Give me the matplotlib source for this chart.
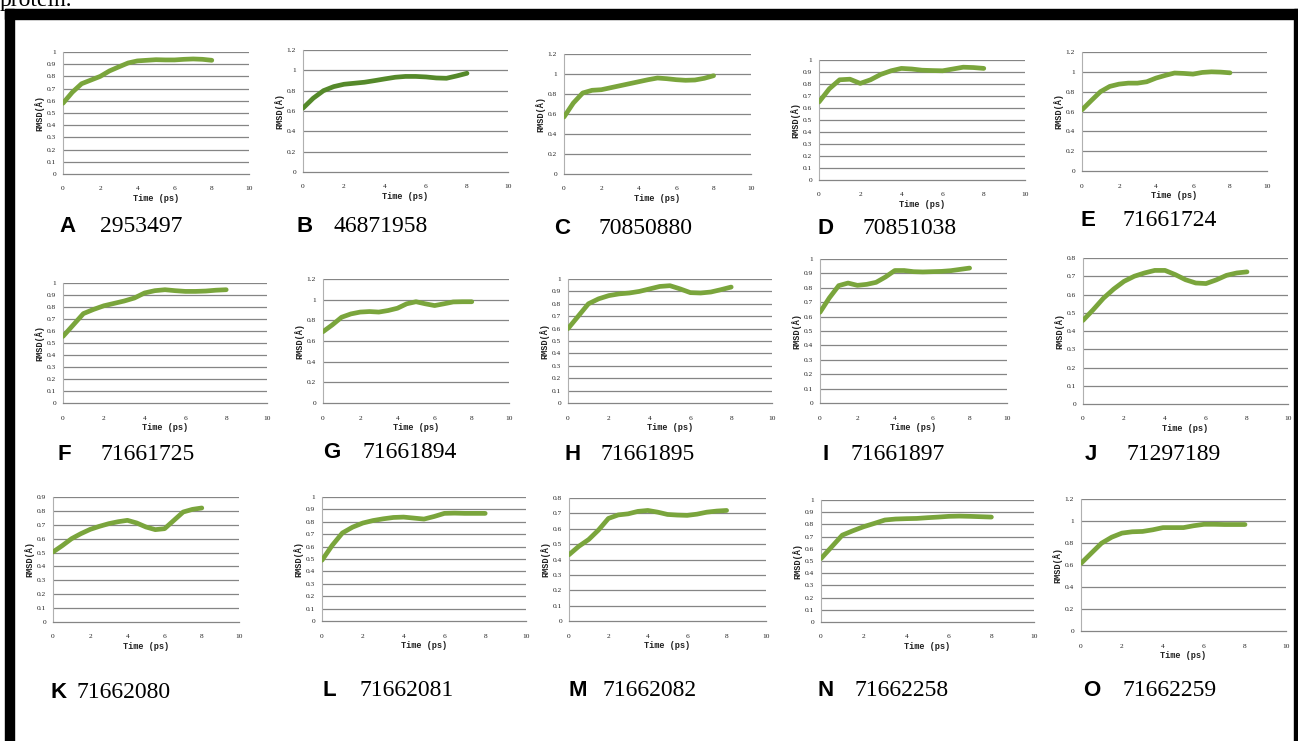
import matplotlib
matplotlib.use("Agg")
import matplotlib.pyplot as plt
from matplotlib.patches import Rectangle

# data (time in ps, RMSD in Angstrom)
time_ps = [0, 0.5, 1, 1.5, 2, 2.5, 3, 3.5, 4, 4.5, 5, 5.5, 6, 6.5, 7, 7.5, 8]

rmsd_A = [0.58, 0.67, 0.74, 0.77, 0.80, 0.845, 0.878, 0.91, 0.927, 0.932, 0.937, 0.935, 0.935, 0.94, 0.943, 0.94, 0.932]
rmsd_B = [0.628, 0.726, 0.80, 0.84, 0.863, 0.873, 0.883, 0.899, 0.916, 0.932, 0.94, 0.94, 0.935, 0.925, 0.922, 0.945, 0.971]
rmsd_C = [0.57, 0.71, 0.81, 0.837, 0.843, 0.863, 0.883, 0.903, 0.923, 0.943, 0.96, 0.953, 0.943, 0.937, 0.94, 0.957, 0.983]
rmsd_D = [0.65, 0.76, 0.835, 0.84, 0.805, 0.835, 0.88, 0.91, 0.93, 0.925, 0.915, 0.912, 0.91, 0.925, 0.94, 0.937, 0.93]
rmsd_E = [0.617, 0.71, 0.80, 0.853, 0.876, 0.886, 0.886, 0.90, 0.937, 0.964, 0.988, 0.984, 0.977, 0.994, 1.0, 0.997, 0.99]
rmsd_F = [0.555, 0.65, 0.745, 0.78, 0.81, 0.83, 0.85, 0.875, 0.917, 0.936, 0.944, 0.936, 0.93, 0.93, 0.933, 0.94, 0.944]
rmsd_G = [0.69, 0.756, 0.83, 0.862, 0.88, 0.885, 0.88, 0.895, 0.917, 0.96, 0.98, 0.96, 0.943, 0.96, 0.978, 0.98, 0.98]
rmsd_H = [0.60, 0.70, 0.80, 0.84, 0.866, 0.88, 0.887, 0.90, 0.92, 0.94, 0.946, 0.92, 0.89, 0.887, 0.895, 0.914, 0.935]
rmsd_I = [0.63, 0.73, 0.815, 0.833, 0.817, 0.824, 0.838, 0.875, 0.92, 0.92, 0.912, 0.91, 0.912, 0.914, 0.919, 0.928, 0.937]
rmsd_J = [0.458, 0.517, 0.58, 0.63, 0.672, 0.70, 0.718, 0.732, 0.732, 0.709, 0.681, 0.663, 0.66, 0.68, 0.705, 0.718, 0.724]
rmsd_K = [0.504, 0.55, 0.60, 0.636, 0.667, 0.689, 0.708, 0.722, 0.732, 0.713, 0.684, 0.665, 0.672, 0.732, 0.792, 0.811, 0.821]
rmsd_L = [0.49, 0.61, 0.71, 0.757, 0.79, 0.81, 0.824, 0.835, 0.838, 0.83, 0.822, 0.843, 0.868, 0.87, 0.868, 0.868, 0.868]
rmsd_M = [0.431, 0.486, 0.53, 0.592, 0.667, 0.69, 0.697, 0.713, 0.719, 0.708, 0.693, 0.689, 0.687, 0.695, 0.708, 0.715, 0.719]
rmsd_N = [0.52, 0.616, 0.712, 0.748, 0.781, 0.808, 0.836, 0.844, 0.847, 0.849, 0.855, 0.86, 0.866, 0.868, 0.866, 0.863, 0.86]
rmsd_O = [0.615, 0.707, 0.798, 0.853, 0.89, 0.902, 0.905, 0.92, 0.94, 0.94, 0.94, 0.957, 0.97, 0.97, 0.968, 0.968, 0.968]

letters = list("ABCDEFGHIJKLMNO")
compound_ids = ["2953497", "46871958", "70850880", "70851038", "71661724",
                "71661725", "71661894", "71661895", "71661897", "71297189",
                "71662080", "71662081", "71662082", "71662258", "71662259"]
y_max = [1, 1.2, 1.2, 1, 1.2, 1, 1.2, 1, 1, 0.8, 0.9, 1, 0.8, 1, 1.2]
y_step = [0.1, 0.2, 0.2, 0.1, 0.2, 0.1, 0.2, 0.1, 0.1, 0.1, 0.1, 0.1, 0.1, 0.1, 0.2]
x_ticks = [0, 2, 4, 6, 8, 10]

series = [rmsd_A, rmsd_B, rmsd_C, rmsd_D, rmsd_E, rmsd_F, rmsd_G, rmsd_H,
          rmsd_I, rmsd_J, rmsd_K, rmsd_L, rmsd_M, rmsd_N, rmsd_O]

W, H = 1298, 741

# axes boxes in pixels: left, right, top, bottom
boxes = [(63, 249, 52, 174), (303, 508, 50, 172), (564, 751, 54, 174),
         (819, 1025, 60, 180), (1082, 1267, 52, 171),
         (63, 267, 283, 403), (323, 509, 279, 403), (568, 772, 279, 403),
         (820, 1007, 259, 403), (1083, 1288, 258, 404),
         (53, 239, 497, 622), (322, 526, 497, 621), (569, 766, 498, 621),
         (821, 1034, 500, 622), (1081, 1286, 499, 631)]
# caption positions in pixels: letter x, number x, y
captions = [(59, 100, 227), (297, 333, 226), (554, 598, 228), (817, 863, 228), (1080, 1122, 221),
            (58, 100, 455), (323, 363, 453), (565, 600, 455), (822, 850, 455), (1085, 1127, 455),
            (50, 77, 692), (322, 360, 690), (568, 603, 690), (818, 855, 690), (1083, 1122, 690)]

fig = plt.figure(figsize=(W / 100, H / 100), dpi=100)
fig.patch.set_facecolor("white")

# black frame around the panels
frame = "black"
fig.patches.append(Rectangle((5 / W, 0), 9 / W, 1 - 9 / H, transform=fig.transFigure, color=frame))
fig.patches.append(Rectangle((5 / W, 1 - 19 / H), 1, 10 / H, transform=fig.transFigure, color=frame))
fig.patches.append(Rectangle((1294 / W, 0), 4 / W, 1 - 9 / H, transform=fig.transFigure, color=frame))

# caption line from the page above, cut off at the top edge
fig.text(0.0, 1 - 6 / H, "protein.", fontsize=17, family="Liberation Serif", va="baseline")

grid_col = "#858585"
line_col = "#7aa53c"

for i, vals in enumerate(series):
    l, r, t, b = boxes[i]
    ax = fig.add_axes([l / W, 1 - b / H, (r - l) / W, (b - t) / H])
    col = "#55892a" if letters[i] == "B" else line_col
    ax.plot(time_ps, vals, color=col, lw=3.4, solid_capstyle="round",
            solid_joinstyle="round", zorder=3)
    ax.set_xlim(0, 10)
    ax.set_ylim(0, y_max[i])
    n = int(round(y_max[i] / y_step[i]))
    yt = [round(k * y_step[i], 1) for k in range(n + 1)]
    ax.set_yticks(yt)
    ax.set_yticklabels(["%g" % v for v in yt])
    ax.set_xticks(x_ticks)
    for v in yt[1:]:
        ax.axhline(v, color=grid_col, lw=0.9, zorder=1)
    for s in ["top", "right"]:
        ax.spines[s].set_visible(False)
    ax.spines["left"].set_color("#b0b0b0")
    ax.spines["bottom"].set_color(grid_col)
    ax.spines["left"].set_linewidth(0.8)
    ax.spines["bottom"].set_linewidth(0.9)
    ax.tick_params(length=0, labelsize=5.3, colors="#222222", pad=5)
    ax.tick_params(axis="x", pad=9)
    for lab in ax.get_xticklabels() + ax.get_yticklabels():
        lab.set_family("Liberation Serif")
    ax.set_xlabel("Time (ps)", fontsize=6.2, family="Liberation Mono", weight="bold",
                  labelpad=2, color="#222222")
    ax.set_ylabel("RMSD(Å)", fontsize=6.2, family="Liberation Mono", weight="bold",
                  labelpad=2, color="#222222")

    lx, nx, cy = captions[i]
    fig.text(lx / W, 1 - cy / H, letters[i], fontsize=16, family="Liberation Sans",
             weight="bold", va="center", ha="left")
    fig.text(nx / W, 1 - cy / H, compound_ids[i], fontsize=17, family="Liberation Serif",
             va="center", ha="left")

fig.savefig("out.png", dpi=100)
